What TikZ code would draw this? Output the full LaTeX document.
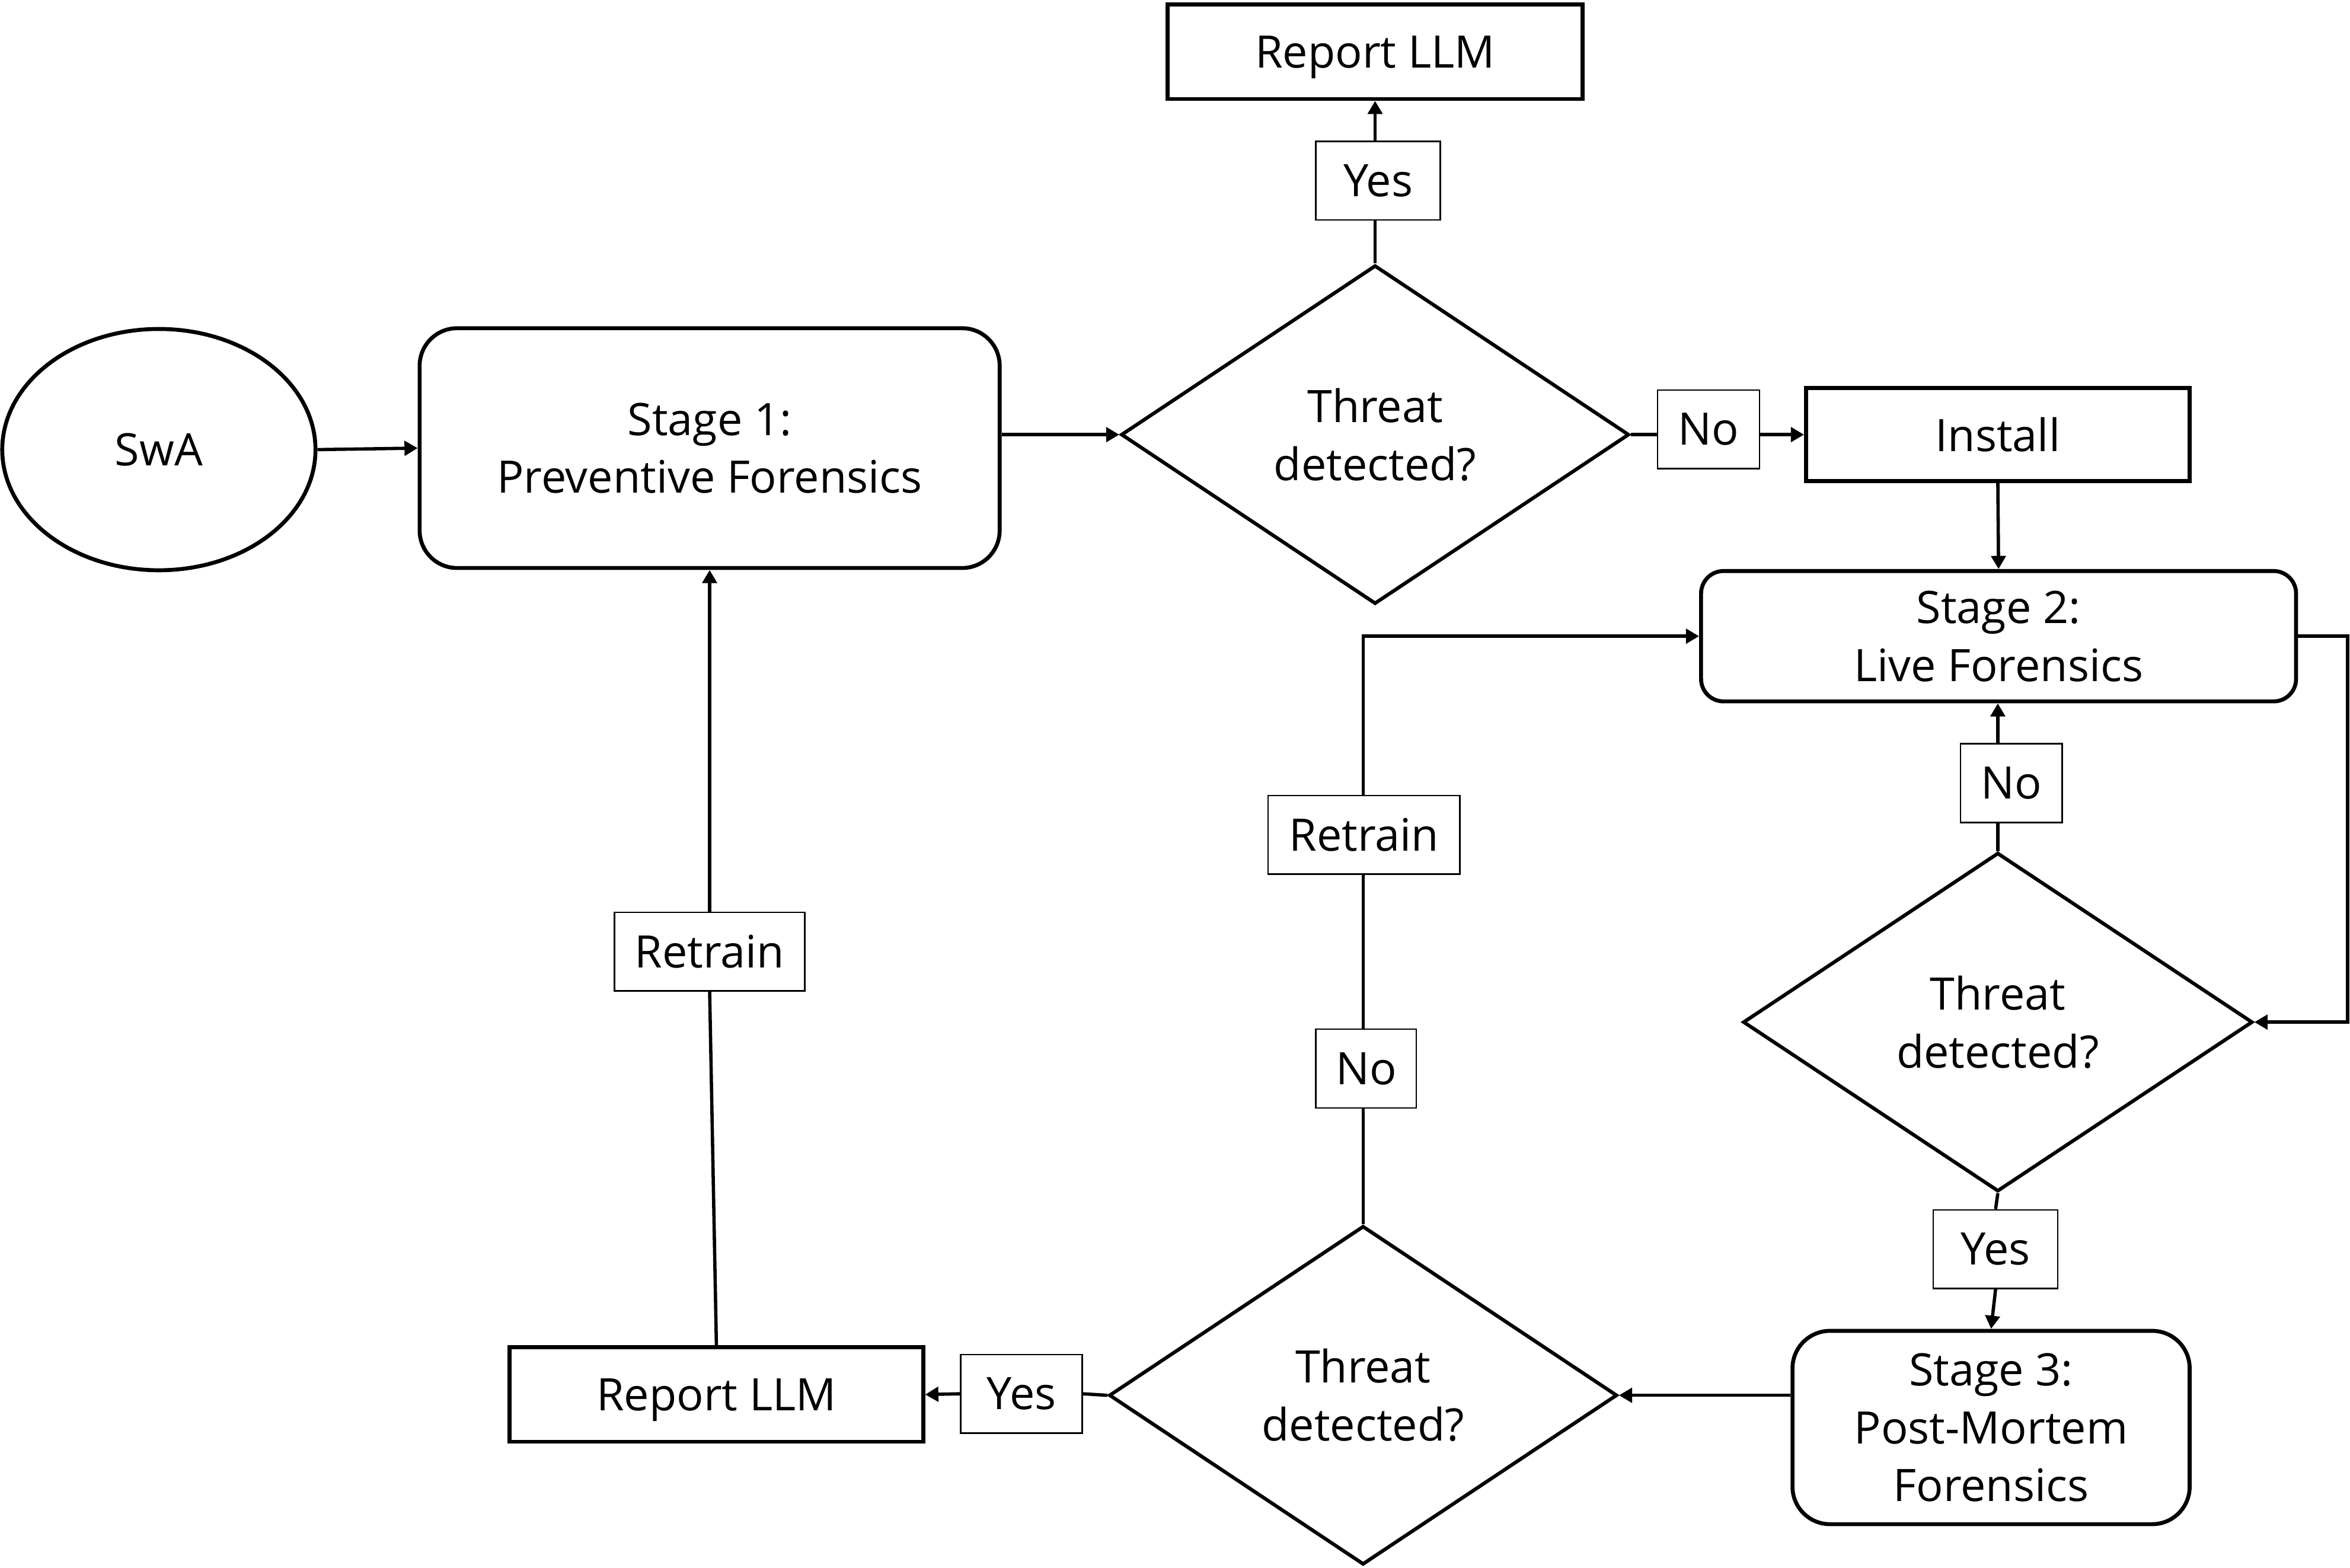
\documentclass[tikz,border=0pt]{standalone}
\usepackage{fontspec}
\setmainfont{Open Sans}
\usetikzlibrary{shapes.geometric,arrows.meta}

\tikzset{
  every node/.style={font=\fontsize{17pt}{22pt}\selectfont, align=center, inner sep=0pt},
  stagebox/.style={draw, line width=1.5pt, rounded corners=#1, fill=white},
  plainbox/.style={draw, line width=1.5pt, fill=white, text depth=0pt},
  decision/.style={diamond, draw, line width=1.35pt, fill=white,
    minimum width=6.78cm, minimum height=4.52cm},
  tag/.style={draw, line width=0.55pt, fill=white, minimum height=1.05cm},
  flow/.style={line width=1.25pt},
  arr/.style={flow, -{Triangle[length=5pt,width=5.5pt]}},
}

\begin{document}
\begin{tikzpicture}
\useasboundingbox (0,0) rectangle (31.36,-20.92);

% main blocks
\node[ellipse, draw, line width=1.5pt, minimum width=4.18cm, minimum height=3.22cm] (swa) at (2.12,-6.00) {SwA};
\node[stagebox=0.5cm, minimum width=7.74cm, minimum height=3.20cm] (s1) at (9.47,-5.98) {Stage 1:\\Preventive Forensics};
\node[decision] (d1) at (18.35,-5.80) {Threat\\detected?};
\node[plainbox, minimum width=5.54cm, minimum height=1.26cm] (rtop) at (18.35,-0.69) {Report LLM};
\node[plainbox, minimum width=5.12cm, minimum height=1.24cm] (install) at (26.66,-5.80) {Install};
\node[stagebox=0.3cm, minimum width=7.94cm, minimum height=1.74cm] (s2) at (26.67,-8.49) {Stage 2:\\Live Forensics};
\node[decision, minimum width=6.80cm] (d2) at (26.66,-13.64) {Threat\\detected?};
\node[stagebox=0.5cm, minimum width=5.30cm, minimum height=2.58cm] (s3) at (26.57,-19.05) {Stage 3:\\Post-Mortem\\Forensics};
\node[decision] (d3) at (18.19,-18.62) {Threat\\detected?};
\node[plainbox, minimum width=5.52cm, minimum height=1.26cm] (rbot) at (9.56,-18.61) {Report LLM};

% branch labels
\node[tag, minimum width=1.66cm] (yes1) at (18.39,-2.41) {Yes};
\node[tag, minimum width=1.36cm] (no1) at (22.80,-5.73) {No};
\node[tag, minimum width=1.36cm] (no2) at (26.84,-10.45) {No};
\node[tag, minimum width=1.66cm] (yes2) at (26.63,-16.67) {Yes};
\node[tag, minimum width=1.62cm] (yes3) at (13.63,-18.60) {Yes};
\node[tag, minimum width=1.34cm] (no3) at (18.23,-14.26) {No};
\node[tag, minimum width=2.56cm] (retrain2) at (18.20,-11.14) {Retrain};
\node[tag, minimum width=2.54cm] (retrain1) at (9.47,-12.70) {Retrain};

% connectors
\draw[arr] (swa.east) -- (s1.west);
\draw[arr] (s1.east |- d1.west) -- (d1.west);
\draw[flow] (d1.north) -- (yes1.south -| d1.north);
\draw[arr] (yes1.north -| d1.north) -- (rtop.south);
\draw[flow] (d1.east) -- (no1.west |- d1.east);
\draw[arr] (no1.east |- d1.east) -- (install.west |- d1.east);
\draw[arr] (install.south) -- (s2.north);
\draw[arr] (s2.east) -- ++(0.66,0) |- (d2.east);
\draw[flow] (d2.north) -- (d2.north |- no2.south);
\draw[arr] (d2.north |- no2.north) -- (s2.south -| d2.north);
\draw[flow] (d2.south) -- (yes2.north);
\draw[arr] (yes2.south) -- (s3.north);
\draw[arr] (s3.west |- d3.east) -- (d3.east);
\draw[flow] (d3.west) -- (yes3.east);
\draw[arr] (yes3.west) -- (rbot.east);
\draw[flow] (d3.north) -- (no3.south -| d3.north);
\draw[flow] (no3.north -| d3.north) -- (retrain2.south -| d3.north);
\draw[arr] (retrain2.north -| d3.north) |- (s2.west);
\draw[flow] (rbot.north) -- (retrain1.south);
\draw[arr] (retrain1.north) -- (s1.south);
\end{tikzpicture}
\end{document}
